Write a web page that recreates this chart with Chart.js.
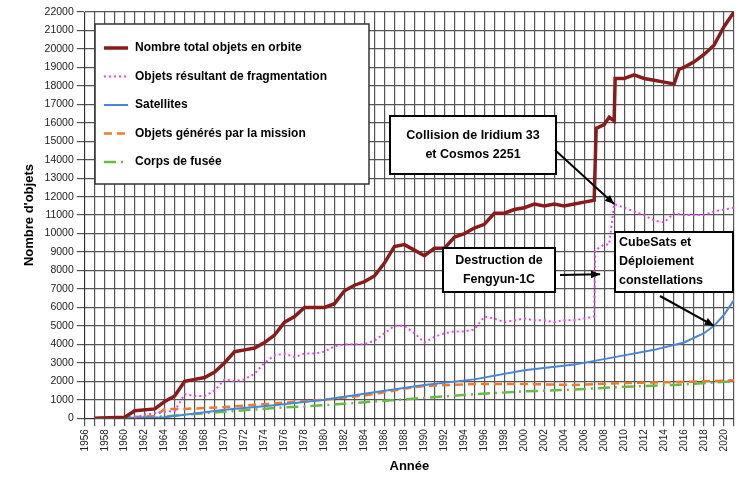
<!DOCTYPE html><html><head><meta charset="utf-8">
<script src="https://cdn.jsdelivr.net/npm/chart.js@4/dist/chart.umd.min.js"></script>
<style>body{margin:0;background:#fff}#w{width:750px;height:482px}</style></head><body><div id="w"><canvas id="c"></canvas></div>
<script>
const totalYears=[1957,1960,1961,1963,1964,1965,1966,1967,1968,1969,1970,1971,1972,1973,1974,1975,1976,1977,1978,1979,1980,1981,1982,1983,1984,1985,1986,1987,1988,1989,1990,1991,1992,1993,1994,1995,1996,1997,1998,1999,2000,2001,2002,2003,2004,2005,2006,2007,2007.2,2008,2008.5,2009,2009.1,2010,2011,2012,2013,2014,2015,2015.5,2016,2017,2018,2019,2020,2021];
const totalVals=[0,50,400,500,900,1200,2000,2100,2200,2500,3000,3600,3700,3800,4100,4500,5200,5500,6000,6000,6000,6200,6900,7200,7400,7700,8400,9300,9400,9100,8800,9200,9200,9800,10000,10300,10500,11100,11100,11300,11400,11600,11500,11600,11500,11600,11700,11800,15700,15900,16300,16100,18400,18400,18600,18400,18300,18200,18100,18900,19000,19300,19700,20200,21200,22000];
const fragYears=[1961,1962,1965,1966,1967,1968,1969,1970,1971,1972,1973,1974,1975,1976,1977,1978,1979,1980,1981,1982,1983,1984,1985,1986,1987,1988,1989,1990,1991,1992,1993,1994,1995,1996,1997,1998,1999,2000,2001,2002,2003,2004,2005,2006,2007,2007.1,2008,2008.5,2009,2010,2011,2012,2013,2014,2015,2016,2017,2018,2019,2020,2021];
const fragVals=[0,200,400,1300,1200,1200,1500,2100,2000,2100,2400,3000,3400,3500,3300,3500,3500,3600,3900,4000,4000,4000,4200,4600,5000,5000,4600,4100,4400,4600,4700,4700,4800,5500,5400,5200,5300,5400,5300,5300,5200,5300,5300,5400,5500,9100,9400,9400,11600,11400,11200,11000,10700,10600,11100,11000,11000,11000,11200,11300,11400];
const satYears=[1957,1960,1964,1970,1975,1980,1985,1990,1995,2000,2005,2010,2013,2016,2018,2019,2020,2021];
const satVals=[0,20,50,450,700,1000,1400,1800,2100,2600,2900,3400,3700,4100,4600,5000,5600,6400];
const missYears=[1957,1963,1964,1966,1970,1975,1980,1985,1988,1990,1995,2000,2005,2010,2015,2021];
const missVals=[0,100,500,500,600,800,1000,1300,1600,1750,1850,1850,1800,1900,1950,2050];
const rbYears=[1957,1964,1970,1975,1980,1985,1990,1995,2000,2005,2010,2015,2021];
const rbVals=[0,100,350,550,700,900,1100,1300,1450,1550,1700,1800,2000];
const labels=["Nombre total objets en orbite","Objets résultant de fragmentation","Satellites","Objets générés par la mission","Corps de fusée"];
const zip=(a,b)=>a.map((x,i)=>({x,y:b[i]}));
const ds=[
 {label:labels[0],data:zip(totalYears,totalVals),borderColor:'#8b1a1a',borderWidth:3.5},
 {label:labels[1],data:zip(fragYears,fragVals),borderColor:'#ee44ee',borderWidth:2,borderDash:[2,3]},
 {label:labels[2],data:zip(satYears,satVals),borderColor:'#4a86d6',borderWidth:2},
 {label:labels[3],data:zip(missYears,missVals),borderColor:'#f07a2a',borderWidth:2.5,borderDash:[8,5]},
 {label:labels[4],data:zip(rbYears,rbVals),borderColor:'#66bb44',borderWidth:2.5,borderDash:[12,5,2,5]}
].map(d=>Object.assign(d,{pointRadius:0,fill:false,tension:0}));
const notes=[
 {lines:["Collision de Iridium 33","et Cosmos 2251"],box:[390,116,166,58],from:[555,150],to:[2009,11600]},
 {lines:["Destruction de","Fengyun-1C"],box:[443,248,112,44],from:[560,275],to:[2007.6,7800]},
 {lines:["CubeSats et","Déploiement","constellations"],box:[615,232,118,60],align:'left',from:[660,296],to:[2019,5000]}
];
const deco={id:'deco',afterDatasetsDraw(ch){
 const c=ch.ctx,xs=ch.scales.x,ys=ch.scales.y;
 c.save();c.fillStyle='#fff';c.strokeStyle='#333';c.lineWidth=1.5;
 c.fillRect(95,24,274,160);c.strokeRect(95,24,274,160);
 c.font='bold 12px Arial, "Liberation Sans"';c.textBaseline='middle';
 ch.data.datasets.forEach((d,i)=>{const y=48+i*28.5;c.strokeStyle=d.borderColor;c.lineWidth=d.borderWidth;c.setLineDash(d.borderDash||[]);
  c.beginPath();c.moveTo(104,y);c.lineTo(128,y);c.stroke();c.setLineDash([]);c.fillStyle='#000';c.fillText(d.label,135,y);});
 notes.forEach(n=>{const[b0,b1,b2,b3]=n.box;c.fillStyle='#fff';c.fillRect(b0,b1,b2,b3);c.strokeStyle='#000';c.lineWidth=2;c.strokeRect(b0,b1,b2,b3);
  c.fillStyle='#000';c.font='bold 12.5px Arial, "Liberation Sans"';c.textAlign=n.align?'left':'center';
  n.lines.forEach((t,i)=>c.fillText(t,n.align?b0+4:b0+b2/2,b1+b3/2+(i-(n.lines.length-1)/2)*19));
  const tx=xs.getPixelForValue(n.to[0]),ty=ys.getPixelForValue(n.to[1]);const[fx,fy]=n.from;
  c.beginPath();c.moveTo(fx,fy);c.lineTo(tx,ty);c.stroke();
  const a=Math.atan2(ty-fy,tx-fx);c.beginPath();c.moveTo(tx,ty);c.lineTo(tx-10*Math.cos(a-0.4),ty-10*Math.sin(a-0.4));c.lineTo(tx-10*Math.cos(a+0.4),ty-10*Math.sin(a+0.4));c.closePath();c.fill();});
 c.restore();}};
new Chart(document.getElementById('c'),{type:'line',data:{datasets:ds},plugins:[deco],
 options:{responsive:true,maintainAspectRatio:false,animation:false,layout:{padding:{top:12,right:16,left:18,bottom:4}},
 plugins:{legend:{display:false},tooltip:{enabled:false}},
 scales:{x:{type:'linear',min:1956,max:2021,afterBuildTicks:s=>{s.ticks=[];for(let v=1956;v<=2021;v++)s.ticks.push({value:v});},
   ticks:{autoSkip:false,maxRotation:90,minRotation:90,color:'#222',font:{size:10},callback:v=>v%2===0?String(v):''},
   grid:{color:'#555',lineWidth:1.2},border:{color:'#333'},
   title:{display:true,text:'Année',font:{size:13,weight:'bold'},color:'#000'}},
  y:{min:0,max:22000,afterBuildTicks:s=>{s.ticks=[];for(let v=0;v<=22000;v+=1000)s.ticks.push({value:v});},
   ticks:{color:'#222',font:{size:10.5},autoSkip:false,callback:v=>String(v)},grid:{color:'#555',lineWidth:1.2},border:{color:'#333'},
   title:{display:true,text:"Nombre d'objets",font:{size:13,weight:'bold'},color:'#000'}}}}});
</script></body></html>
